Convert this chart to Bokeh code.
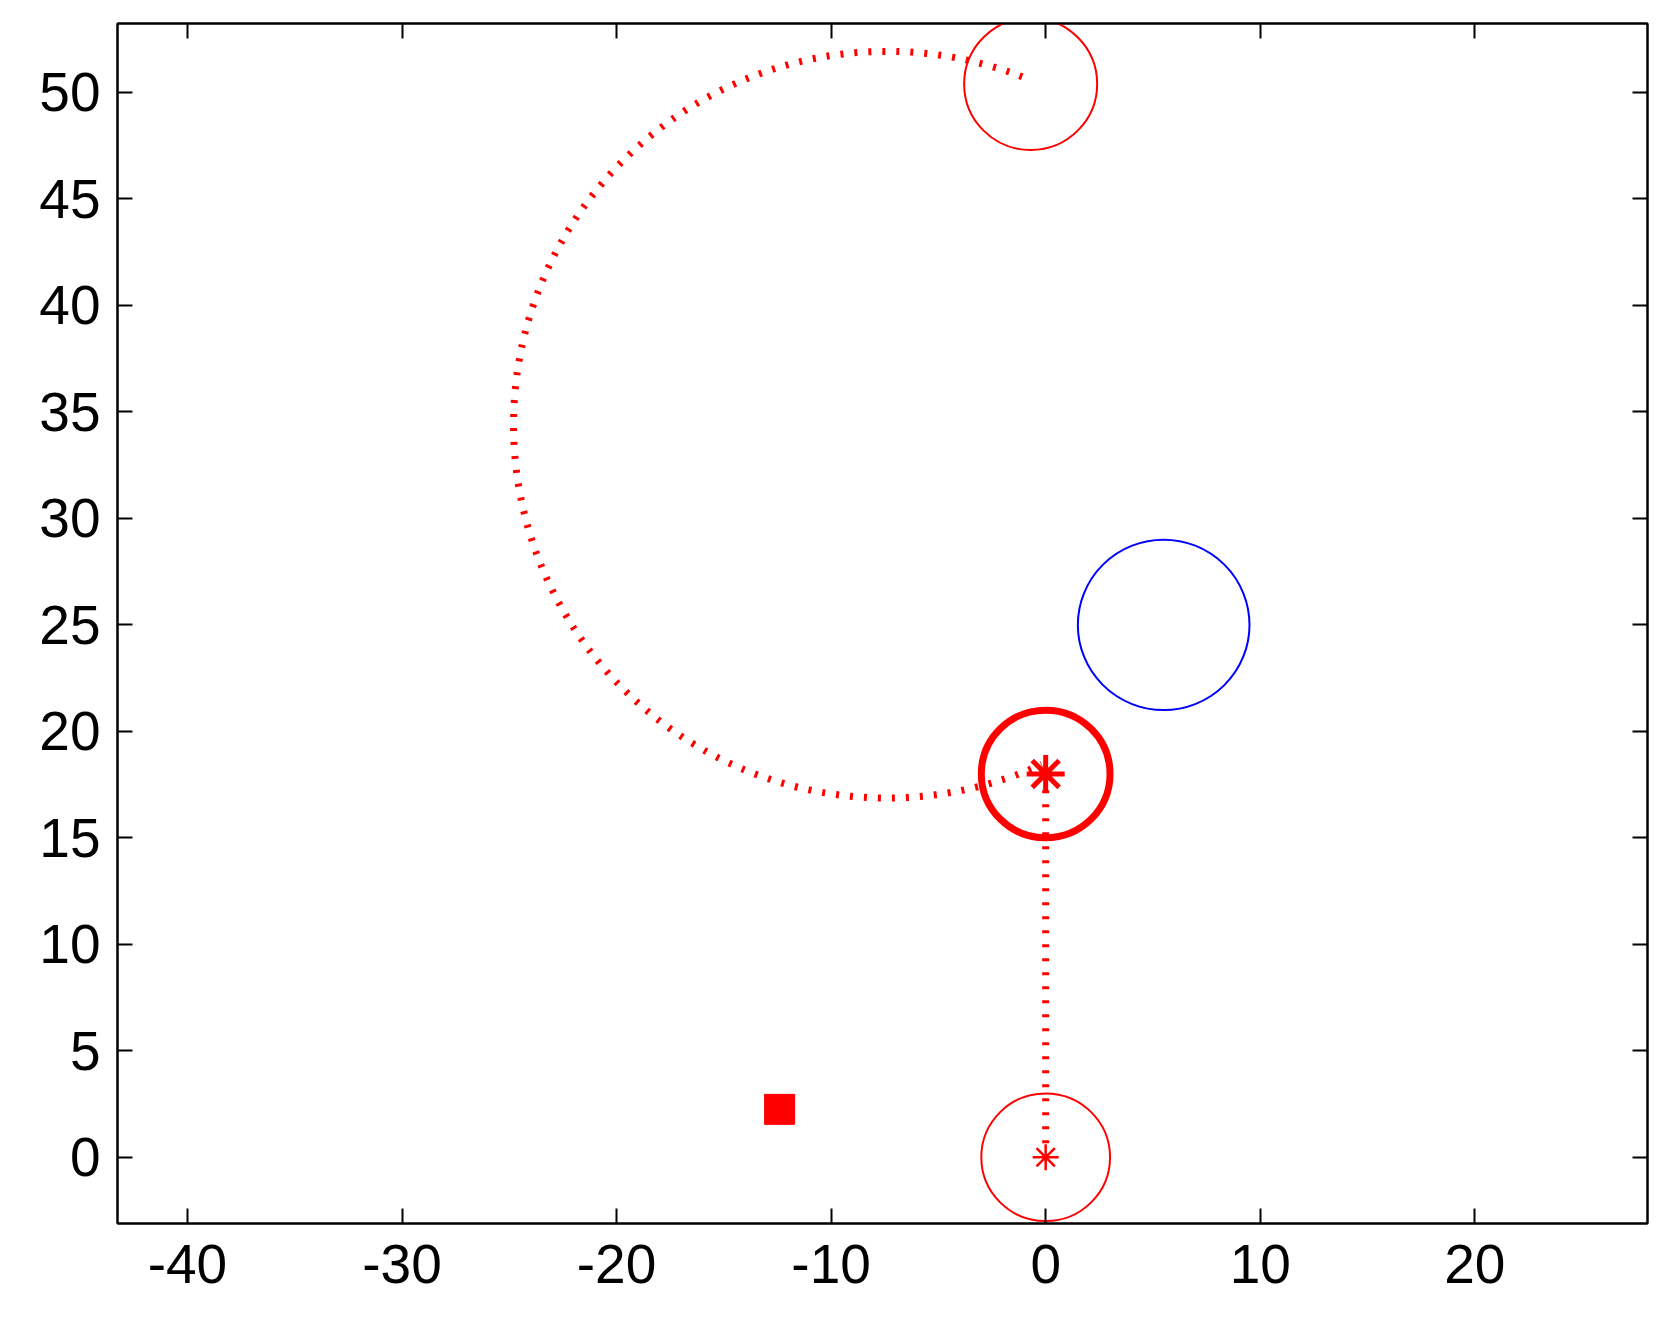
from bokeh.plotting import figure
from bokeh.models import Range1d, LinearAxis, FixedTicker, CustomJSTickFormatter
from bokeh.embed import file_html
from bokeh.resources import INLINE

# ---- data ----
x_ticks = [-40, -30, -20, -10, 0, 10, 20]
y_ticks = [0, 5, 10, 15, 20, 25, 30, 35, 40, 45, 50]
x_tick_labels = ["-40", "-30", "-20", "-10", "0", "10", "20"]
y_tick_labels = ["0", "5", "10", "15", "20", "25", "30", "35", "40", "45", "50"]

# straight dotted path (start -> current position)
path_x = [0.0, 0.0]
path_y = [0.0, 18.0]

# circular dotted path (centre, radius, start/end angle in rad)
arc_cx = [-7.4]
arc_cy = [34.4]
arc_r = [17.4]
arc_start = [1.20]
arc_end = [5.14]

# thin red circles (start and goal)
ring_x = [0.0, -0.7]
ring_y = [0.0, 50.4]
ring_r = [3.0, 3.1]

# thick red circle (current position)
cur_x = [0.0]
cur_y = [18.0]
cur_r = [3.0]

# blue circle (obstacle)
obs_x = [5.5]
obs_y = [25.0]
obs_r = [4.0]

# asterisk markers
start_x = [0.0]
start_y = [0.0]
now_x = [0.0]
now_y = [18.0]

# filled square
sq_x = [-12.4]
sq_y = [2.25]

p = figure(width=1665, height=1309, output_backend="svg", toolbar_location=None,
           x_range=Range1d(-43.26, 28.05), y_range=Range1d(-3.11, 53.24),
           x_axis_location=None, y_axis_location=None,
           min_border_left=117, min_border_right=18,
           min_border_top=23, min_border_bottom=86)
p.background_fill_color = "white"
p.border_fill_color = "white"
p.grid.visible = False
p.outline_line_color = "black"
p.outline_line_width = 2


def make_axis(ticks, tick_labels=None):
    ax = LinearAxis(ticker=FixedTicker(ticks=ticks))
    ax.axis_line_color = "black"
    ax.axis_line_width = 2
    ax.major_tick_line_color = "black"
    ax.major_tick_line_width = 2
    ax.major_tick_in = 15
    ax.major_tick_out = 0
    ax.minor_tick_line_color = None
    if tick_labels is not None:
        ax.major_label_overrides = {t: s for t, s in zip(ticks, tick_labels)}
        ax.major_label_text_font = "Liberation Sans"
        ax.major_label_text_font_size = "55px"
        ax.major_label_text_color = "black"
    else:
        ax.formatter = CustomJSTickFormatter(code="return ''")
        ax.major_label_text_font_size = "1px"
        ax.major_label_standoff = 0
    return ax


bottom = make_axis(x_ticks, x_tick_labels)
bottom.major_label_standoff = 21
left = make_axis(y_ticks, y_tick_labels)
left.major_label_standoff = 17
p.add_layout(bottom, "below")
p.add_layout(left, "left")
p.add_layout(make_axis(x_ticks), "above")
p.add_layout(make_axis(y_ticks), "right")

# dotted paths
p.line(path_x, path_y, line_color="red", line_width=7, line_dash="3 11", line_cap="butt")
p.arc(x=arc_cx, y=arc_cy, radius=arc_r, start_angle=arc_start, end_angle=arc_end,
      direction="anticlock", line_color="red", line_width=7, line_dash="3 11", line_cap="butt")

# circles
p.ellipse(x=ring_x, y=ring_y, width=[2 * r for r in ring_r], height=[2 * r for r in ring_r],
          fill_color=None, line_color="red", line_width=2)
p.ellipse(x=cur_x, y=cur_y, width=[2 * r for r in cur_r], height=[2 * r for r in cur_r],
          fill_color=None, line_color="red", line_width=7)
p.ellipse(x=obs_x, y=obs_y, width=[2 * r for r in obs_r], height=[2 * r for r in obs_r],
          fill_color=None, line_color="blue", line_width=2)

# markers
p.scatter(start_x, start_y, marker="asterisk", size=26, line_color="red", line_width=2.5)
p.scatter(now_x, now_y, marker="asterisk", size=38, line_color="red", line_width=5)
p.scatter(sq_x, sq_y, marker="square", size=30, fill_color="red", line_color="red", line_width=1)

open("out.html", "w").write(file_html(p, INLINE))
